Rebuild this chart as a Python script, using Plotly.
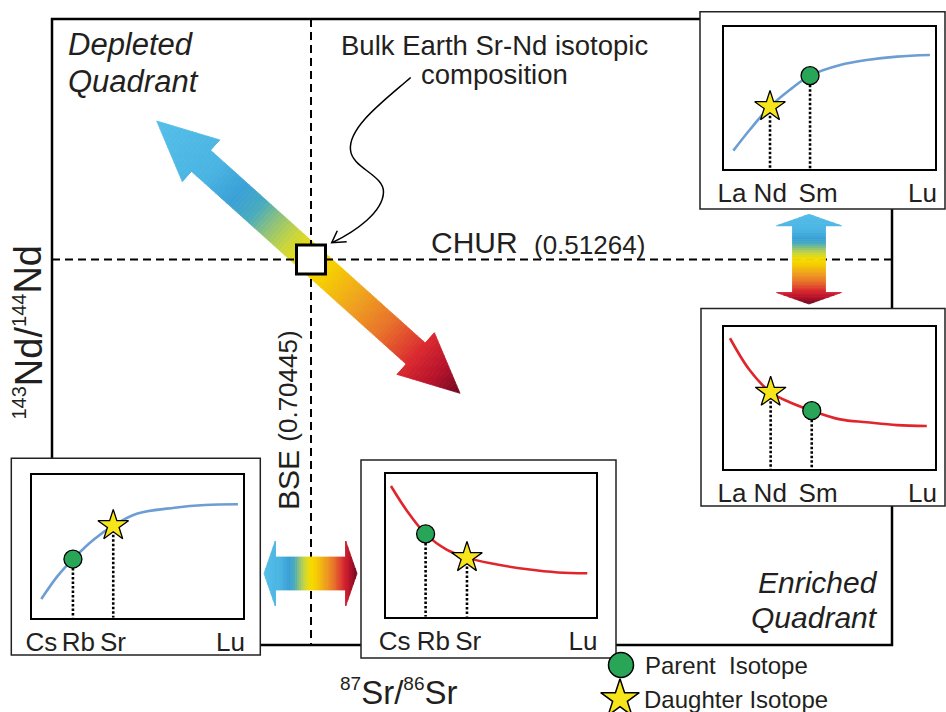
import math
import plotly.graph_objects as go

W, H = 946, 712
FONT = "Liberation Sans, Arial, Helvetica, sans-serif"
TXT = "#231f20"

# ---------------- data ----------------
BSE_SR = "0.70445"     # 87Sr/86Sr of bulk silicate Earth
CHUR_ND = "0.51264"    # 143Nd/144Nd of CHUR

ree_labels = ["La", "Nd", "Sm", "Lu"]
ree_tick_pos = [0.036, 0.218, 0.445, 0.941]
lil_labels = ["Cs", "Rb", "Sr", "Lu"]
lil_tick_pos_dep = [0.044, 0.22, 0.384, 0.941]
lil_tick_pos_enr = [0.042, 0.227, 0.393, 0.939]

# normalised trace-element patterns (0-1 within each inset)
dep_ree_x = [0.043, 0.12, 0.217, 0.31, 0.407, 0.55, 0.676, 0.82, 0.976]
dep_ree_y = [0.129, 0.274, 0.438, 0.555, 0.656, 0.731, 0.766, 0.79, 0.801]
enr_ree_x = [0.027, 0.12, 0.22, 0.31, 0.415, 0.55, 0.676, 0.82, 0.961]
enr_ree_y = [0.919, 0.696, 0.540, 0.47, 0.411, 0.35, 0.33, 0.31, 0.304]
dep_lil_x = [0.044, 0.12, 0.194, 0.29, 0.385, 0.5, 0.676, 0.82, 0.976]
dep_lil_y = [0.131, 0.29, 0.411, 0.545, 0.645, 0.73, 0.771, 0.79, 0.795]
enr_lil_x = [0.025, 0.1, 0.19, 0.29, 0.387, 0.5, 0.676, 0.82, 0.96]
enr_lil_y = [0.916, 0.745, 0.58, 0.47, 0.414, 0.374, 0.332, 0.31, 0.304]

# parent / daughter isotope positions on each pattern
dep_ree_parent, dep_ree_daughter = [0.407, 0.656], [0.217, 0.438]
enr_ree_parent, enr_ree_daughter = [0.415, 0.411], [0.220, 0.540]
dep_lil_parent, dep_lil_daughter = [0.194, 0.411], [0.385, 0.645]
enr_lil_parent, enr_lil_daughter = [0.190, 0.580], [0.387, 0.414]

BLUE_LINE = "#6c9ed3"
RED_LINE = "#e0262b"
GREEN = "#28a557"
YELLOW = "#f7e51c"

STOPS = [(0.00, (85, 190, 233)), (0.18, (74, 180, 226)), (0.27, (58, 160, 214)),
         (0.33, (72, 171, 190)), (0.38, (140, 193, 125)), (0.44, (201, 214, 60)),
         (0.50, (246, 220, 0)), (0.56, (246, 207, 0)), (0.66, (239, 162, 30)),
         (0.76, (232, 112, 42)), (0.86, (217, 39, 47)), (0.93, (181, 18, 42)),
         (1.00, (110, 8, 32))]


def grad_color(t):
    t = min(max(t, 0.0), 1.0)
    for i in range(len(STOPS) - 1):
        t0, c0 = STOPS[i]
        t1, c1 = STOPS[i + 1]
        if t <= t1:
            f = (t - t0) / (t1 - t0) if t1 > t0 else 0
            c = [round(c0[k] + (c1[k] - c0[k]) * f) for k in range(3)]
            return "rgb(%d,%d,%d)" % tuple(c)
    return "rgb(%d,%d,%d)" % STOPS[-1][1]


def poly_path(pts):
    return "M " + " L ".join("%.2f,%.2f" % p for p in pts) + " Z"


shapes = []


def gradient_arrow(p0, p1, shaft_w, head_len, head_w, n):
    dx, dy = p1[0] - p0[0], p1[1] - p0[1]
    L = math.hypot(dx, dy)
    ux, uy = dx / L, dy / L
    nx, ny = -uy, ux
    bnds = sorted(set([L * i / n for i in range(n + 1)] + [head_len, L - head_len]))
    for a, b in zip(bnds[:-1], bnds[1:]):
        if b - a < 1e-6:
            continue
        mid = 0.5 * (a + b)
        if mid < head_len:
            hw = lambda u: head_w / 2 * u / head_len
        elif mid > L - head_len:
            hw = lambda u: head_w / 2 * (L - u) / head_len
        else:
            hw = lambda u: shaft_w / 2
        pts = []
        for u, s in ((a, -1), (b, -1), (b, 1), (a, 1)):
            h = hw(u) * s
            pts.append((p0[0] + u * ux + h * nx, p0[1] + u * uy + h * ny))
        col = grad_color(mid / L)
        shapes.append(dict(type="path", path=poly_path(pts), xref="x", yref="y",
                           fillcolor=col, line=dict(color=col, width=0.8), layer="below"))


# main frame
shapes.append(dict(type="rect", x0=52, y0=19, x1=892, y1=645, xref="x", yref="y",
                   line=dict(color="black", width=2.5), layer="below"))
# diagonal arrow
gradient_arrow((156.7, 121.0), (460.0, 393.3), 28.5, 59.5, 56, 110)
# reference lines BSE / CHUR
shapes.append(dict(type="line", x0=311, x1=311, y0=19, y1=645, xref="x", yref="y",
                   line=dict(color="black", width=2, dash="8px,5px"), layer="below"))
shapes.append(dict(type="line", x0=52, x1=892, y0=259.5, y1=259.5, xref="x", yref="y",
                   line=dict(color="black", width=2, dash="8px,5px"), layer="below"))
# bulk earth square
shapes.append(dict(type="rect", x0=296.5, x1=325.5, y0=245, y1=274, xref="x", yref="y",
                   fillcolor="white", line=dict(color="black", width=3), layer="below"))
# double arrows
gradient_arrow((809.0, 214.3), (809.0, 304.0), 33, 11.5, 65, 50)
gradient_arrow((264.0, 573.5), (357.0, 573.5), 33, 11.3, 65, 50)

# inset outer boxes
for (x0, y0, x1, y1) in [(700, 11.7, 945, 209), (701, 308.5, 945, 506),
                         (11.3, 458.3, 260.3, 655), (361, 460, 616, 658)]:
    shapes.append(dict(type="rect", x0=x0, y0=y0, x1=x1, y1=y1, xref="x", yref="y",
                       fillcolor="white", line=dict(color="#222", width=1.5), layer="below"))

# pointer arrow
shapes.append(dict(type="path", xref="x", yref="y", layer="below",
                   path="M 410.7,77.5 C 385,100 348,127 350.5,150 C 352,168 384,175 383.5,192 "
                        "C 383,212 356,231 332.5,242.5",
                   line=dict(color="black", width=1.5)))
shapes.append(dict(type="path", xref="x", yref="y", layer="below",
                   path="M 346.7,241.7 L 331.7,242.7 L 337.3,230.7",
                   line=dict(color="black", width=1.5)))

fig = go.Figure()

# legend markers (main pixel axes)
fig.add_trace(go.Scatter(x=[621], y=[665], mode="markers", hoverinfo="skip",
                         marker=dict(symbol="circle", size=25, color=GREEN,
                                     line=dict(color="black", width=1.5))))
fig.add_trace(go.Scatter(x=[620], y=[699], mode="markers", hoverinfo="skip",
                         marker=dict(symbol="star", size=29, color=YELLOW,
                                     line=dict(color="black", width=1.5))))

insets = [
    ((724.3, 26.7, 935, 169), dep_ree_x, dep_ree_y, BLUE_LINE, dep_ree_parent, dep_ree_daughter, ree_labels, ree_tick_pos),
    ((724.3, 326.7, 935, 469.3), enr_ree_x, enr_ree_y, RED_LINE, enr_ree_parent, enr_ree_daughter, ree_labels, ree_tick_pos),
    ((32, 475, 243, 617.7), dep_lil_x, dep_lil_y, BLUE_LINE, dep_lil_parent, dep_lil_daughter, lil_labels, lil_tick_pos_dep),
    ((385.7, 474, 595.7, 616.7), enr_lil_x, enr_lil_y, RED_LINE, enr_lil_parent, enr_lil_daughter, lil_labels, lil_tick_pos_enr),
]

layout_axes = {}
for i, (box, cx, cy, col, par, dau, labs, tpos) in enumerate(insets):
    k = i + 2
    xa, ya = "x%d" % k, "y%d" % k
    x0, y0, x1, y1 = box
    layout_axes["xaxis%d" % k] = dict(
        domain=[x0 / W, x1 / W], range=[0, 1], anchor=ya, showline=True, mirror=True,
        linecolor="black", linewidth=1.8, showgrid=False, zeroline=False, automargin=False,
        ticks="", tickvals=tpos,
        ticktext=labs, tickangle=0, tickfont=dict(size=26, color=TXT, family=FONT),
        fixedrange=True)
    layout_axes["yaxis%d" % k] = dict(
        domain=[1 - y1 / H, 1 - y0 / H], range=[0, 1], anchor=xa, showline=True,
        mirror=True, linecolor="black", linewidth=1.8, showgrid=False, zeroline=False,
        showticklabels=False, ticks="", fixedrange=True, automargin=False)
    fig.add_trace(go.Scatter(x=cx, y=cy, mode="lines", xaxis=xa, yaxis=ya, hoverinfo="skip",
                             line=dict(color=col, width=2.6, shape="spline", smoothing=1.0)))
    for p in (par, dau):
        fig.add_trace(go.Scatter(x=[p[0], p[0]], y=[p[1], 0], mode="lines", xaxis=xa, yaxis=ya,
                                 hoverinfo="skip",
                                 line=dict(color="black", width=2.6, dash="2.5px,2px")))
    fig.add_trace(go.Scatter(x=[par[0]], y=[par[1]], mode="markers", xaxis=xa, yaxis=ya,
                             hoverinfo="skip",
                             marker=dict(symbol="circle", size=18, color=GREEN,
                                         line=dict(color="black", width=1.3))))
    fig.add_trace(go.Scatter(x=[dau[0]], y=[dau[1]], mode="markers", xaxis=xa, yaxis=ya,
                             hoverinfo="skip",
                             marker=dict(symbol="star", size=23, color=YELLOW,
                                         line=dict(color="black", width=1.3))))


def ann(text, x, y, size, xanchor="center", italic=False, angle=0):
    t = "<i>%s</i>" % text if italic else text
    return dict(text=t, x=x, y=y, xref="x", yref="y", showarrow=False, xanchor=xanchor,
                yanchor="middle", textangle=angle,
                font=dict(size=size, color=TXT, family=FONT))


annotations = [
    ann("Depleted", 66, 44.6, 31, "left", True),
    ann("Quadrant", 66, 81.3, 31, "left", True),
    ann("Enriched", 880, 582, 30, "right", True),
    ann("Quadrant", 880, 617.3, 30, "right", True),
    ann("Bulk Earth Sr-Nd isotopic", 494.7, 45.3, 27.5),
    ann("composition", 494, 74.3, 27.5),
    ann("CHUR", 429, 242.3, 30, "left"),
    ann("(%s)" % CHUR_ND, 532, 245.3, 26, "left"),
    ann("BSE", 288, 480, 30, "center", False, -90),
    ann("(%s)" % BSE_SR, 288, 386.7, 26, "center", False, -90),
    ann("<sup><span style='font-size:20px'>143</span></sup>Nd/"
        "<sup><span style='font-size:20px'>144</span></sup>Nd", 28.5, 333, 38, "center", False, -90),
    ann("<sup><span style='font-size:19px'>87</span></sup>Sr/"
        "<sup><span style='font-size:19px'>86</span></sup>Sr", 398, 691.8, 33),
    ann("Parent\u00a0 Isotope", 643, 665, 24, "left"),
    ann("Daughter Isotope", 641.5, 699.7, 24, "left"),
]

fig.update_layout(
    width=W, height=H, margin=dict(l=0, r=0, t=0, b=0, pad=0, autoexpand=False),
    paper_bgcolor="white", plot_bgcolor="rgba(0,0,0,0)", showlegend=False,
    xaxis=dict(range=[0, W], domain=[0, 1], visible=False, fixedrange=True, automargin=False),
    yaxis=dict(range=[H, 0], domain=[0, 1], visible=False, fixedrange=True, automargin=False),
    shapes=shapes, annotations=annotations, **layout_axes)

fig.write_html("out.html", config={"displayModeBar": False})
